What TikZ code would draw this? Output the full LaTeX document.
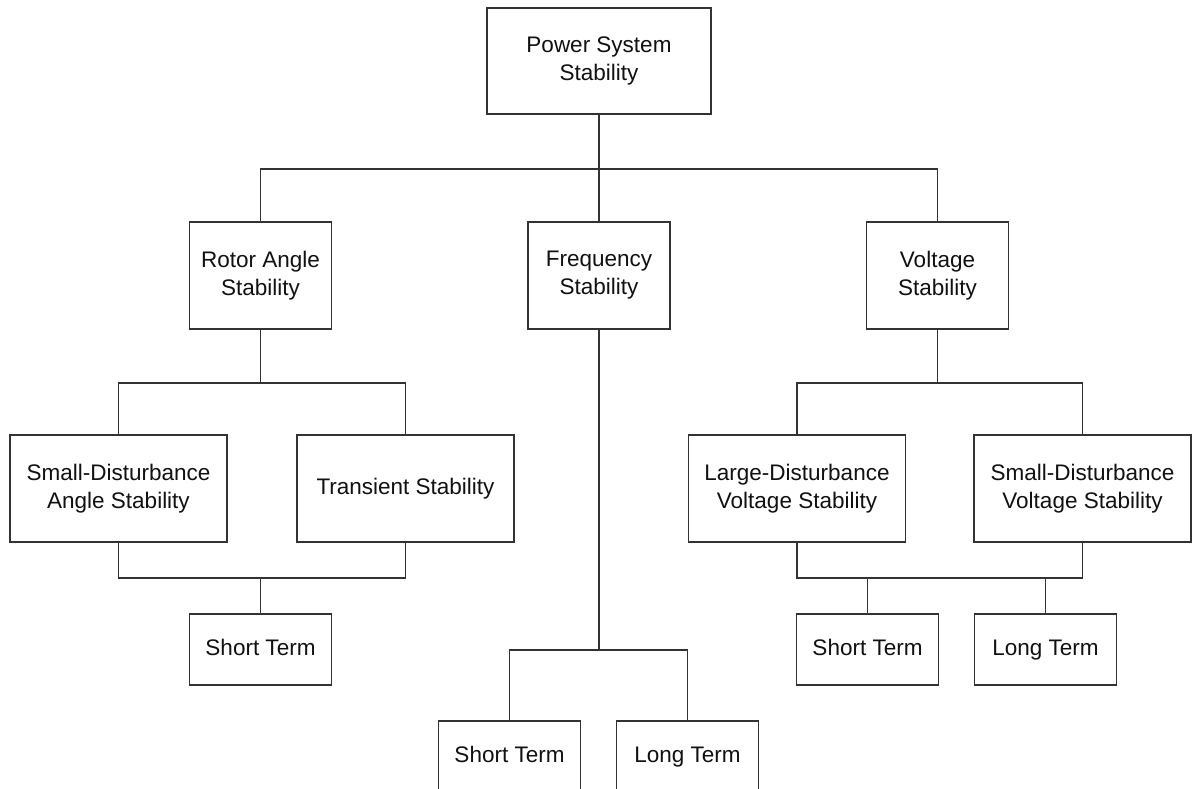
\documentclass[tikz,border=0pt]{standalone}
\usepackage{fontspec}
\setmainfont{Liberation Sans}
\definecolor{linecol}{HTML}{333333}
\definecolor{textcol}{HTML}{111111}
\begin{document}
\begin{tikzpicture}[x=1pt,y=-1pt,
  box/.style={draw=linecol, line width=1.4pt, fill=white, align=center,
    inner sep=0pt, text=textcol, font=\fontsize{22.5}{28}\selectfont},
  wide/.style={box, minimum width=217pt, minimum height=107pt},
  mid/.style={box, minimum width=142pt, minimum height=107pt},
  small/.style={box, minimum width=142pt, minimum height=71pt,
    text height=16pt, text depth=5pt},
  wire/.style={draw=linecol, line width=1.4pt}]
\useasboundingbox (0,0) rectangle (1193,789);
\clip (0,0) rectangle (1193,789);
\fill[white] (0,0) rectangle (1193,789);

% top level
\node[box, minimum width=224pt, minimum height=106pt] (root) at (599,61) {Power System\\Stability};

% second level
\node[mid] (rotor) at (260.5,275.5) {Rotor Angle\\Stability};
\node[mid] (freq)  at (599,275.5) {Frequency\\Stability};
\node[mid] (volt)  at (937.5,275.5) {Voltage\\Stability};

% rotor angle branch
\node[wide] (sda)   at (118.5,488.5) {Small-Disturbance\\Angle Stability};
\node[wide] (trans) at (405.5,488.5) {Transient Stability};
\node[small] (rst)  at (260.5,649.5) {Short Term};

% voltage branch
\node[wide] (ldv) at (797,488.5) {Large-Disturbance\\Voltage Stability};
\node[wide] (sdv) at (1082.5,488.5) {Small-Disturbance\\Voltage Stability};
\node[small] (vst) at (867.5,649.5) {Short Term};
\node[small] (vlt) at (1045.5,649.5) {Long Term};

% frequency branch
\node[small] (fst) at (509.5,756.5) {Short Term};
\node[small] (flt) at (687.5,756.5) {Long Term};

% bus points
\coordinate (b0) at (599,169);
\coordinate (b1) at (260.5,383);
\coordinate (b2) at (260.5,578);
\coordinate (b3) at (599,650);
\coordinate (b4) at (937.5,383);
\coordinate (b5) at (937.5,578);

% connectors
\draw[wire] (root.south) -- (freq.north);
\draw[wire] (rotor.north) |- (b0) -| (volt.north);

\draw[wire] (rotor.south) -- (b1);
\draw[wire] (sda.north) |- (b1) -| (trans.north);
\draw[wire] (sda.south) |- (b2) -| (trans.south);
\draw[wire] (b2) -- (rst.north);

\draw[wire] (freq.south) -- (b3);
\draw[wire] (fst.north) |- (b3) -| (flt.north);

\draw[wire] (volt.south) -- (b4);
\draw[wire] (ldv.north) |- (b4) -| (sdv.north);
\draw[wire] (ldv.south) |- (b5) -| (sdv.south);
\draw[wire] (vst.north) -- (vst.north |- b5);
\draw[wire] (vlt.north) -- (vlt.north |- b5);
\end{tikzpicture}
\end{document}
